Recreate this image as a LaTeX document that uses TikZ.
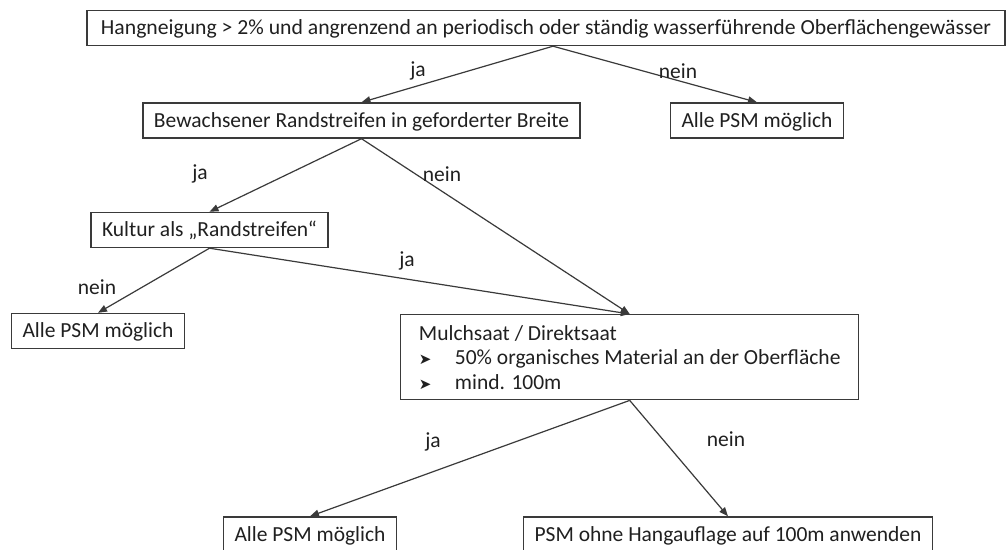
\documentclass[tikz,border=0pt]{standalone}
\usepackage{fontspec}
\usepackage{graphicx}
\setmainfont{Carlito}
\newfontfamily\dejavu{DejaVu Sans}
\usetikzlibrary{arrows.meta}
\definecolor{linec}{HTML}{3A3A3A}
\definecolor{txt}{HTML}{202020}
\begin{document}
\begin{tikzpicture}[x=1pt,y=-1pt,
  box/.style={draw=linec, line width=1.4pt, fill=white, inner xsep=11pt, inner ysep=6.5pt,
    text=txt, font=\fontsize{21.5}{24.5}\selectfont},
  box1/.style={box, text height=17.5pt, text depth=4.5pt},
  lab/.style={text=txt, inner sep=0pt, font=\fontsize{21.5}{24.5}\selectfont},
  arr/.style={draw=linec, line width=1.2pt, -{Triangle[length=9pt,width=7pt]}}]
\clip (0,0) rectangle (1008,549);
\fill[white] (0,0) rectangle (1008,549);

\node[box1, minimum width=918pt] (top) at (546,28)
  {\resizebox{890pt}{\height}{Hangneigung > 2\% und angrenzend an periodisch oder ständig wasserführende Oberflächengewässer}};
\node[box1] (rand) at (361.5,120.5) {Bewachsener Randstreifen in geforderter Breite};
\node[box1] (alleA) at (757,120.5) {Alle PSM möglich};
\node[box1] (kultur) at (209.5,230) {Kultur als „Randstreifen“};
\node[box1] (alleB) at (98,331) {Alle PSM möglich};
\node[box, anchor=north west, minimum width=458pt, minimum height=85pt, align=left] (mulch) at (400,314)
  {Mulchsaat / Direktsaat\\
   \makebox[36pt][l]{\dejavu\fontsize{15}{15}\selectfont ➤}50\% organisches Material an der Oberfläche\\
   \makebox[36pt][l]{\dejavu\fontsize{15}{15}\selectfont ➤}mind. 100m};
\node[box1] (alleC) at (310,534.5) {Alle PSM möglich};
\node[box1] (psm) at (728,534.5) {PSM ohne Hangauflage auf 100m anwenden};

\draw[arr] ([xshift=7pt]top.south) -- (rand.north);
\draw[arr] ([xshift=7pt]top.south) -- (alleA.north);
\draw[arr] (rand.south) -- (kultur.north);
\draw[arr] (rand.south) -- (mulch.north);
\draw[arr] (kultur.south) -- (alleB.north);
\draw[arr] (kultur.south) -- (mulch.north);
\draw[arr] (mulch.south) -- (alleC.north);
\draw[arr] (mulch.south) -- (psm.north);

\node[lab] (l1) at (418,71) {ja};
\node[lab] (l2) at (678,71) {nein};
\node[lab] (l3) at (200,174) {ja};
\node[lab] (l4) at (442,174) {nein};
\node[lab] (l5) at (407,261) {ja};
\node[lab] (l6) at (97,287) {nein};
\node[lab] (l7) at (433,442) {ja};
\node[lab] (l8) at (726,439) {nein};
\end{tikzpicture}
\end{document}
